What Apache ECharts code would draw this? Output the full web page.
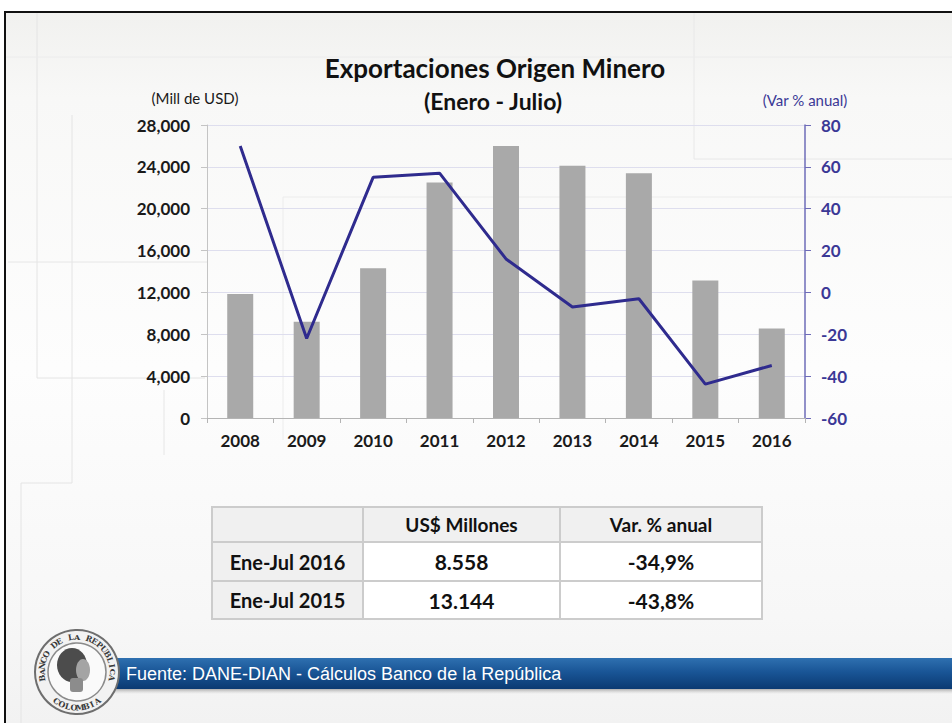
<!DOCTYPE html>
<html>
<head>
<meta charset="utf-8">
<title>Exportaciones Origen Minero</title>
<script src="https://cdn.jsdelivr.net/npm/echarts@6/dist/echarts.min.js"></script>
<style>
  html, body { margin: 0; padding: 0; background: #ffffff; }
  #main { width: 952px; height: 723px; }
</style>
</head>
<body>
<div id="main"></div>
<script>
// datos del grafico
var years = ['2008', '2009', '2010', '2011', '2012', '2013', '2014', '2015', '2016'];
var exportsUSD = [11850, 9200, 14300, 22500, 26000, 24100, 23400, 13144, 8558];
var varAnual = [70, -22, 55, 57, 16, -7, -3, -43.8, -34.9];

// ejes
var leftMin = 0, leftMax = 28000, leftStep = 4000;
var rightMin = -60, rightMax = 80, rightStep = 20;

// tabla resumen
var tableHeader = ['', 'US$ Millones', 'Var. % anual'];
var tableRowLabels = ['Ene-Jul 2016', 'Ene-Jul 2015'];
var tableValues = ['8.558', '13.144'];
var tableVar = ['-34,9%', '-43,8%'];

var fuente = 'Fuente: DANE-DIAN - Cálculos Banco de la República';

var FONT = 'Lato';
var lineColor = '#2f2b8e';
var rightColor = '#3b3896';

// tabla con elementos graficos
var colX = [212, 363, 560, 762];
var rowY = [507, 542, 581, 619];
var tableEls = [];
for (var r = 0; r < 3; r++) {
  for (var c = 0; c < 3; c++) {
    var txt, size;
    if (r === 0) { txt = tableHeader[c]; size = 19; }
    else if (c === 0) { txt = tableRowLabels[r - 1]; size = 20; }
    else if (c === 1) { txt = tableValues[r - 1]; size = 21; }
    else { txt = tableVar[r - 1]; size = 21; }
    var fill = (r === 0 || c === 0) ? '#f0f0f0' : '#ffffff';
    tableEls.push({
      type: 'rect', z: 50,
      shape: { x: colX[c], y: rowY[r], width: colX[c + 1] - colX[c], height: rowY[r + 1] - rowY[r] },
      style: { fill: fill, stroke: '#cccccc', lineWidth: 2 }
    });
    if (txt) {
      tableEls.push({
        type: 'text', z: 51,
        x: (colX[c] + colX[c + 1]) / 2, y: (rowY[r] + rowY[r + 1]) / 2,
        style: { text: txt, fontFamily: FONT, fontWeight: 'bold', fontSize: size,
                 fill: '#111111', align: 'center', verticalAlign: 'middle' }
      });
    }
  }
}

// logo: letras alrededor del sello
var logoCx = 77, logoCy = 672;
var logoEls = [
  { type: 'circle', z: 58, shape: { cx: logoCx, cy: logoCy, r: 42 },
    style: { fill: '#f2f2f2', stroke: '#6e6e6e', lineWidth: 2 } },
  { type: 'circle', z: 58, shape: { cx: logoCx, cy: logoCy, r: 29 },
    style: { fill: '#fafafa', stroke: '#8a8a8a', lineWidth: 1.5 } },
  // cabeza
  { type: 'ellipse', z: 59, shape: { cx: 72, cy: 665, rx: 15, ry: 17 }, style: { fill: '#4c4c4c' } },
  { type: 'ellipse', z: 59, shape: { cx: 83, cy: 670, rx: 7, ry: 11 }, style: { fill: '#a4a4a4' } },
  { type: 'rect', z: 59, shape: { x: 70, y: 678, width: 13, height: 14, r: 3 }, style: { fill: '#8c8c8c' } }
];
function arcText(str, startDeg, endDeg, radius, top) {
  var n = str.length;
  for (var i = 0; i < n; i++) {
    var a = (startDeg + (endDeg - startDeg) * (i + 0.5) / n) * Math.PI / 180;
    var x = logoCx + radius * Math.cos(a);
    var y = logoCy + radius * Math.sin(a);
    logoEls.push({
      type: 'text', z: 60, x: x, y: y,
      rotation: top ? -(a + Math.PI / 2) : -(a - Math.PI / 2),
      style: { text: str[i], fontFamily: 'DejaVu Serif', fontWeight: 'bold', fontSize: 8,
               fill: '#3a3a3a', align: 'center', verticalAlign: 'middle' }
    });
  }
}
arcText('BANCO DE LA REPUBLICA', 165, 375, 35.5, true);
arcText('COLOMBIA', 130, 50, 35.5, false);

var myChart = echarts.init(document.getElementById('main'), null, { renderer: 'svg' });

var option = {
  backgroundColor: '#ffffff',
  animation: false,
  title: [
    { text: 'Exportaciones Origen Minero', left: 490, top: 50, textAlign: 'center',
      textStyle: { fontFamily: FONT, fontWeight: 'bold', fontSize: 26, color: '#111111' } },
    { text: '(Enero - Julio)', left: 488, top: 84, textAlign: 'center',
      textStyle: { fontFamily: FONT, fontWeight: 'bold', fontSize: 23, color: '#111111' } }
  ],
  grid: { left: 207, right: 147, top: 125, bottom: 305, containLabel: false },
  xAxis: {
    type: 'category',
    data: years,
    axisLine: { lineStyle: { color: '#b4b4b4', width: 1 } },
    axisTick: { show: true, length: 5, lineStyle: { color: '#b4b4b4' } },
    axisLabel: { fontFamily: FONT, fontWeight: 'bold', fontSize: 17, color: '#1a1a1a', margin: 14 }
  },
  yAxis: [
    {
      type: 'value', min: leftMin, max: leftMax, interval: leftStep,
      name: '(Mill de USD)', nameLocation: 'end', nameGap: 20,
      nameTextStyle: { fontFamily: FONT, fontSize: 15, color: '#1a1a1a', align: 'center', padding: [0, 24, 0, 0] },
      axisLine: { show: true, lineStyle: { color: '#c4c4c4' } },
      axisTick: { show: true, length: 6, lineStyle: { color: '#c4c4c4' } },
      axisLabel: {
        fontFamily: FONT, fontWeight: 'bold', fontSize: 17, color: '#1a1a1a', margin: 17,
        formatter: function (v) { return v.toLocaleString('en-US'); }
      },
      splitLine: { lineStyle: { color: '#dedeee', width: 1 } }
    },
    {
      type: 'value', min: rightMin, max: rightMax, interval: rightStep, position: 'right',
      name: '(Var % anual)', nameLocation: 'end', nameGap: 18,
      nameTextStyle: { fontFamily: FONT, fontSize: 15, color: rightColor, align: 'center' },
      axisLine: { show: true, lineStyle: { color: '#6e6cb8', width: 1.5 } },
      axisTick: { show: true, length: 6, lineStyle: { color: '#6e6cb8' } },
      axisLabel: { fontFamily: FONT, fontWeight: 'bold', fontSize: 17, color: rightColor, margin: 16 },
      splitLine: { show: false }
    }
  ],
  series: [
    {
      name: 'Exportaciones', type: 'bar', data: exportsUSD, barWidth: 26,
      itemStyle: { color: '#a9a9a9' }, z: 2
    },
    {
      name: 'Var % anual', type: 'line', yAxisIndex: 1, data: varAnual,
      showSymbol: false, symbol: 'none',
      lineStyle: { color: lineColor, width: 3 }, z: 3
    }
  ],
  graphic: [
    // fondo de la diapositiva
    {
      type: 'rect', z: -10, silent: true,
      shape: { x: 6, y: 13, width: 946, height: 710 },
      style: {
        fill: new echarts.graphic.LinearGradient(0, 0, 0, 1, [
          { offset: 0, color: '#f1f1ef' },
          { offset: 0.12, color: '#f8f8f7' },
          { offset: 0.5, color: '#fdfdfd' },
          { offset: 0.85, color: '#f7f7f7' },
          { offset: 1, color: '#f2f2f2' }
        ])
      }
    },
    // lineas decorativas tenues
    { type: 'polyline', z: -9, silent: true, shape: { points: [[37, 13], [37, 378], [205, 378]] },
      style: { stroke: '#e4e4e4', fill: null, lineWidth: 1 } },
    { type: 'polyline', z: -9, silent: true, shape: { points: [[72, 115], [72, 483], [21, 483], [21, 723]] },
      style: { stroke: '#e4e4e4', fill: null, lineWidth: 1 } },
    { type: 'line', z: -9, silent: true, shape: { x1: 8, y1: 262, x2: 207, y2: 262 },
      style: { stroke: '#e6e6e6', lineWidth: 1 } },
    { type: 'line', z: -9, silent: true, shape: { x1: 164, y1: 390, x2: 164, y2: 455 },
      style: { stroke: '#e6e6e6', lineWidth: 1 } },
    { type: 'polyline', z: -9, silent: true, shape: { points: [[283, 440], [283, 197], [952, 197]] },
      style: { stroke: '#ececec', fill: null, lineWidth: 1 } },
    { type: 'polyline', z: -9, silent: true, shape: { points: [[694, 13], [694, 159], [952, 159]] },
      style: { stroke: '#e8e8e8', fill: null, lineWidth: 1 } },
    { type: 'line', z: -9, silent: true, shape: { x1: 6, y1: 57, x2: 952, y2: 57 },
      style: { stroke: '#ececec', lineWidth: 1 } },
    // marco negro
    { type: 'polyline', z: 60, silent: true, shape: { points: [[5, 723], [5, 12], [952, 12]] },
      style: { stroke: '#111111', fill: null, lineWidth: 2 } }
  ].concat(tableEls).concat([
    // barra inferior
    { type: 'rect', z: 55, shape: { x: 40, y: 688, width: 912, height: 6 },
      style: { fill: new echarts.graphic.LinearGradient(0, 0, 0, 1, [
        { offset: 0, color: '#9a9a9a' }, { offset: 1, color: 'rgba(200,200,200,0)' }]) } },
    { type: 'rect', z: 56, shape: { x: 40, y: 658, width: 912, height: 31 },
      style: { fill: new echarts.graphic.LinearGradient(0, 0, 0, 1, [
        { offset: 0, color: '#2e70b0' }, { offset: 0.45, color: '#195596' }, { offset: 1, color: '#0b3a72' }]) } },
    { type: 'text', z: 57, x: 126, y: 674,
      style: { text: fuente, fontFamily: 'Liberation Sans', fontSize: 18, fill: '#ffffff', verticalAlign: 'middle' } }
  ]).concat(logoEls)
};

myChart.setOption(option);
</script>
</body>
</html>
